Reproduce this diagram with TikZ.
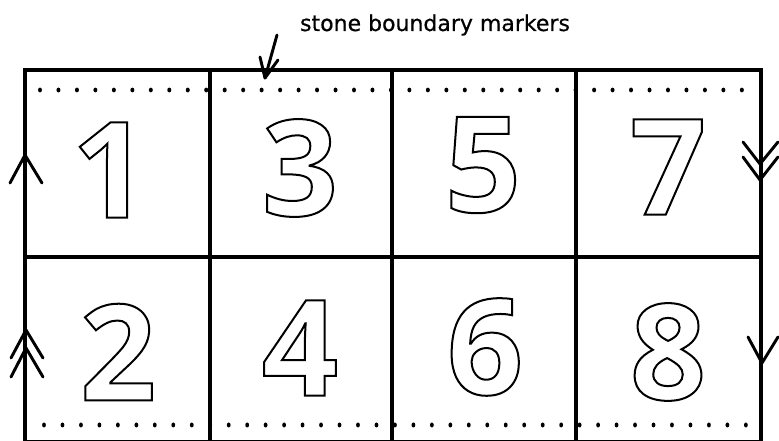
\documentclass[tikz,border=0pt]{standalone}
\usepackage{fontspec}
\setmainfont{DejaVu Sans}
\newfontfamily\digitfont{Open Sans}
\newfontfamily\lblfont{DejaVu Sans}[FakeBold=0.6]
\newcommand{\odigit}[1]{\special{pdf:literal direct 1 Tr 1.5 w}#1\special{pdf:literal direct 0 Tr}}
\begin{document}
\begin{tikzpicture}[x=0.75pt,y=-0.75pt,
  gridline/.style={line width=2.5pt},
  arr/.style={line width=2.2pt, line cap=round, line join=round},
  digit/.style={font=\digitfont\bfseries\fontsize{100}{100}\selectfont, inner sep=0pt},
  lbl/.style={font=\lblfont\fontsize{16.5}{16.5}\selectfont, inner sep=0pt, anchor=base}]
\useasboundingbox (0,0) rectangle (779,441);
% grid
\draw[gridline] (25,441) -- (25,70) -- (761,70) -- (761,441);
\draw[gridline] (25,257) -- (761,257);
\foreach \x in {210,392,576} \draw[gridline] (\x,70) -- (\x,441);
\draw[line width=0.8pt] (25,440.5) -- (761,440.5);
% dots
\foreach \i in {0,...,38} {
  \fill ({40+\i*18.47},90) ellipse (2 and 2.4);
  \fill ({44+\i*18.47},425) ellipse (1.9 and 2.5);
}
% digits
\node[digit] (d1) at (110,170) {\odigit{1}};
\node[digit] (d3) at (300,168) {\odigit{3}};
\node[digit] (d5) at (483,165) {\odigit{5}};
\node[digit] (d7) at (668,167) {\odigit{7}};
\node[digit] (d2) at (118,352) {\odigit{2}};
\node[digit] (d4) at (300,348) {\odigit{4}};
\node[digit] (d6) at (485,347) {\odigit{6}};
\node[digit] (d8) at (668,352) {\odigit{8}};
% label
\node[lbl] (label) at (435,31) {stone boundary markers};
\coordinate (ltail) at (277,35);
\coordinate (ltip) at (265,78);
\draw[arr] (ltail) -- (ltip);
\draw[arr] (260,57) -- (ltip) -- (278,60);
% left arrows (up)
\draw[arr] (10,183) -- (25,155) -- (42,183);
\draw[arr] (11,358) -- (26,330) -- (43,358);
\draw[arr] (11,377) -- (26,348) -- (43,377);
% right arrows (down)
\draw[arr] (743,142) -- (760,164) -- (778,142);
\draw[arr] (743,157) -- (760,180) -- (778,157);
\draw[arr] (748,337) -- (762,363) -- (778,337);
\end{tikzpicture}
\end{document}
